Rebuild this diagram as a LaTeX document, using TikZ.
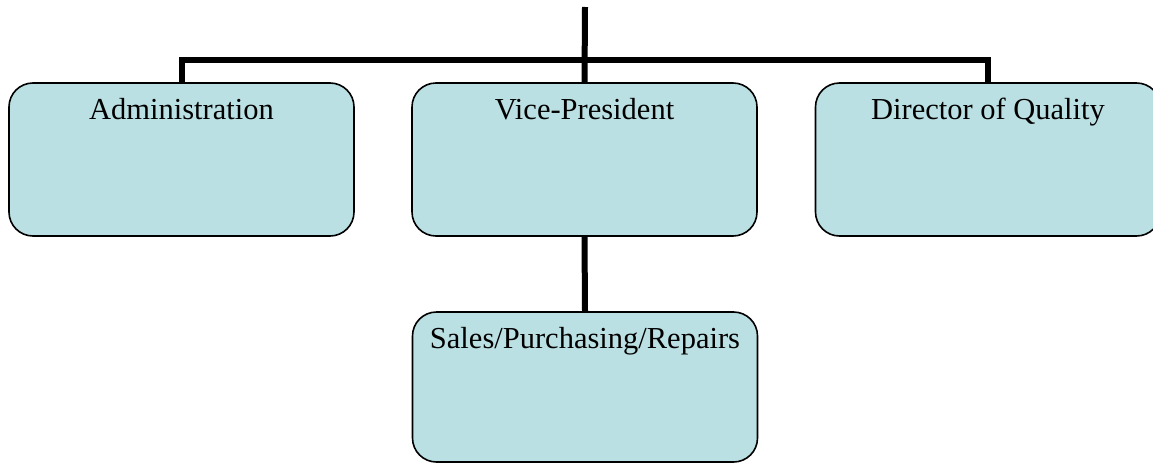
\documentclass[tikz,border=0pt]{standalone}
\usepackage{fontspec}
\setmainfont{Liberation Serif}
\usepackage{xcolor}
\usepackage{tikz}
\usetikzlibrary{positioning}
\definecolor{boxfill}{RGB}{187,224,227}

\begin{document}
\begin{tikzpicture}[x=1pt, y=-1pt]
          \tikzstyle{unit}=[draw=black,line width=1.6pt,fill=boxfill,rounded corners=24pt,
            minimum width=345pt,minimum height=153pt,inner sep=0pt]
          \tikzstyle{link}=[line width=6pt,black]
          \useasboundingbox (0,0) rectangle (1153,463);
          \node[unit] (admin) at (181.5,159.5) {};
          \node[unit] (vp) at (584.5,159.5) {};
          \node[unit] (quality) at (988,159.5) {};
          \node[unit,minimum height=150pt] (sales) at (585,387) {};
          \tikzstyle{title}=[anchor=base,font=\fontsize{30.5}{36}\selectfont]
          \node[title] (adminlabel) [below=37pt of admin.north,anchor=base] {Administration};
          \node[title] (vplabel) [below=37pt of vp.north,anchor=base] {Vice-President};
          \node[title] (qualitylabel) [below=37pt of quality.north,anchor=base] {Director of Quality};
          \node[title] (saleslabel) [below=37pt of sales.north,anchor=base] {Sales/Purchasing/Repairs};
          \coordinate (top) at (585,7);
          \coordinate (bar) at (585,60);
          \draw[link] (admin.north) |- (bar) -| (quality.north);
          \draw[link] (top) -- (vp.north);
          \draw[link] (vp.south) -- (sales.north);
        \end{tikzpicture}
\end{document}
